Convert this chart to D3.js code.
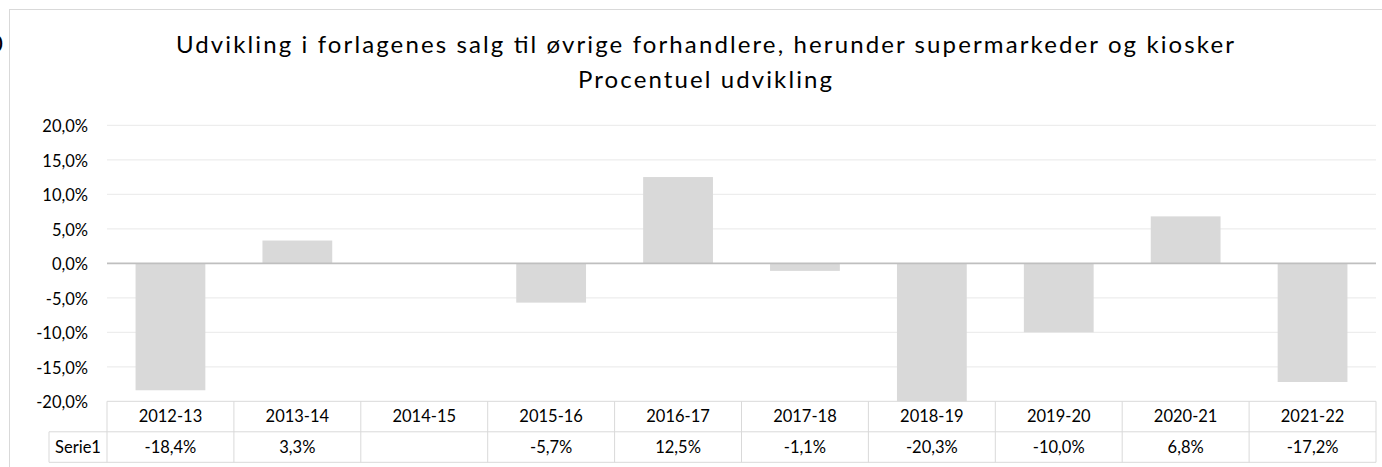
<!DOCTYPE html>
<html>
<head>
<meta charset="utf-8">
<script src="https://cdn.jsdelivr.net/npm/d3@7"></script>
<style>
  body { margin: 0; background: #fff; }
  svg { display: block; }
  text { font-family: Lato, "Open Sans", sans-serif; fill: #000; }
</style>
</head>
<body>
<div id="chart"></div>
<script>
// data
const categories = ["2012-13", "2013-14", "2014-15", "2015-16", "2016-17", "2017-18", "2018-19", "2019-20", "2020-21", "2021-22"];
const serie1 = [-18.4, 3.3, null, -5.7, 12.5, -1.1, -20.3, -10.0, 6.8, -17.2];
const yTicks = [-20, -15, -10, -5, 0, 5, 10, 15, 20];
const seriesName = "Serie1";
const titleLines = ["Udvikling i forlagenes salg til øvrige forhandlere, herunder supermarkeder og kiosker", "Procentuel udvikling"];

const width = 1382, height = 467;
const plot = {left: 107, right: 1376, top: 125.3, bottom: 401.3};

const locale = d3.formatLocale({decimal: ",", thousands: ".", grouping: [3], currency: ["", " kr"], minus: "-"});
const pct = v => locale.format(".1f")(v) + "%";

const svg = d3.select("#chart").append("svg")
  .attr("width", width)
  .attr("height", height);

// chart area border (runs off the right and bottom of the frame)
svg.append("rect")
  .attr("x", 9.5).attr("y", 9.5)
  .attr("width", 1400).attr("height", 500)
  .attr("fill", "#fff")
  .attr("stroke", "#d9d9d9");

// cut-off glyph at the far left edge, as in the source picture
svg.append("text")
  .attr("x", 3).attr("y", 52)
  .attr("text-anchor", "end")
  .style("font-size", "24px")
  .text("0");

// title
svg.selectAll(".title")
  .data(titleLines)
  .enter()
  .append("text")
    .classed("title", true)
    .attr("x", 705)
    .attr("y", (d, i) => i == 0 ? 53 : 88)
    .attr("text-anchor", "middle")
    .attr("textLength", (d, i) => i == 0 ? 1058 : 254)
    .attr("lengthAdjust", "spacing")
    .style("font-size", "24px")
    .text(d => d);

const x = d3.scaleBand()
  .domain(categories)
  .range([plot.left, plot.right])
  .paddingInner(0.45)
  .paddingOuter(0.225);

const y = d3.scaleLinear()
  .domain([-20, 20])
  .range([plot.bottom, plot.top])
  .clamp(true);

// gridlines
svg.append("g")
  .selectAll("line")
  .data(yTicks.filter(d => d != 0 && d != -20))
  .enter()
  .append("line")
    .attr("x1", plot.left).attr("x2", plot.right)
    .attr("y1", d => y(d)).attr("y2", d => y(d))
    .attr("stroke", "#ededed")
    .attr("stroke-width", 1.3);

// y axis labels
const yAxis = svg.append("g")
  .attr("transform", `translate(${plot.left - 19},0)`)
  .call(d3.axisLeft(y).tickValues(yTicks).tickFormat(pct).tickSize(0).tickPadding(0));
yAxis.select(".domain").remove();
yAxis.selectAll("text")
  .attr("dy", "0.4em")
  .style("font-family", "Lato, sans-serif")
  .style("font-size", "16.5px")
  .attr("fill", "#000");

// bars
const bars = categories.map((c, i) => ({cat: c, value: serie1[i]})).filter(d => d.value != null);
svg.append("g")
  .selectAll("rect")
  .data(bars)
  .enter()
  .append("rect")
    .attr("x", d => x(d.cat))
    .attr("width", x.bandwidth())
    .attr("y", d => Math.min(y(0), y(d.value)))
    .attr("height", d => Math.abs(y(d.value) - y(0)))
    .attr("fill", "#d9d9d9");

// zero line
svg.append("line")
  .attr("x1", plot.left).attr("x2", plot.right)
  .attr("y1", y(0)).attr("y2", y(0))
  .attr("stroke", "#bfbfbf")
  .attr("stroke-width", 1.8);

// data table under the plot
const rowH = 30.5;
const t0 = plot.bottom, t1 = t0 + rowH, t2 = t1 + rowH;
const legendLeft = 49;
const table = svg.append("g");
const gridColor = "#d9d9d9";

table.append("line")
  .attr("x1", plot.left).attr("x2", plot.right)
  .attr("y1", t0).attr("y2", t0)
  .attr("stroke", gridColor);
[t1, t2].forEach(ty => {
  table.append("line")
    .attr("x1", legendLeft).attr("x2", plot.right)
    .attr("y1", ty).attr("y2", ty)
    .attr("stroke", gridColor);
});
table.append("line")
  .attr("x1", legendLeft).attr("x2", legendLeft)
  .attr("y1", t1).attr("y2", t2)
  .attr("stroke", gridColor);

const edges = categories.map(c => x(c) - x.step() * x.paddingOuter()).concat([plot.right]);
table.selectAll(".col-line")
  .data(edges)
  .enter()
  .append("line")
    .classed("col-line", true)
    .attr("x1", d => d).attr("x2", d => d)
    .attr("y1", t0).attr("y2", t2)
    .attr("stroke", gridColor);

table.selectAll(".cat-label")
  .data(categories)
  .enter()
  .append("text")
    .classed("cat-label", true)
    .attr("x", d => x(d) + x.bandwidth() / 2)
    .attr("y", (t0 + t1) / 2)
    .attr("dy", "0.36em")
    .attr("text-anchor", "middle")
    .style("font-size", "16.5px")
    .text(d => d);

table.selectAll(".val-label")
  .data(categories.map((c, i) => ({cat: c, value: serie1[i]})))
  .enter()
  .append("text")
    .classed("val-label", true)
    .attr("x", d => x(d.cat) + x.bandwidth() / 2)
    .attr("y", (t1 + t2) / 2)
    .attr("dy", "0.36em")
    .attr("text-anchor", "middle")
    .style("font-size", "16.5px")
    .text(d => d.value == null ? "" : pct(d.value));

table.append("text")
  .attr("x", (legendLeft + plot.left) / 2)
  .attr("y", (t1 + t2) / 2)
  .attr("dy", "0.36em")
  .attr("text-anchor", "middle")
  .style("font-size", "16.5px")
  .text(seriesName);
</script>
</body>
</html>
